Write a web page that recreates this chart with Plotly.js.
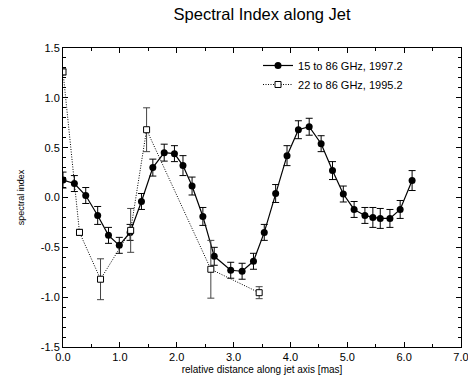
<!DOCTYPE html>
<html>
<head>
<meta charset="utf-8">
<script src="https://cdn.plot.ly/plotly-3.0.1.min.js"></script>
<style>html,body{margin:0;padding:0;background:#fff;}#chart{width:468px;height:381px;}</style>
</head>
<body>
<div id="chart"></div>
<script>
// 15 to 86 GHz, 1997.2
const x1997 = [0.0, 0.2, 0.4, 0.61, 0.8, 0.99, 1.18, 1.38, 1.58, 1.78, 1.96, 2.11, 2.27, 2.46, 2.66, 2.95, 3.15, 3.35, 3.54, 3.74, 3.94, 4.14, 4.33, 4.54, 4.74, 4.93, 5.12, 5.31, 5.45, 5.58, 5.75, 5.93, 6.14];
const y1997 = [0.175, 0.14, 0.02, -0.18, -0.38, -0.48, -0.35, -0.04, 0.30, 0.45, 0.44, 0.32, 0.115, -0.19, -0.59, -0.73, -0.74, -0.64, -0.35, 0.04, 0.42, 0.68, 0.71, 0.54, 0.27, 0.035, -0.12, -0.18, -0.20, -0.21, -0.21, -0.12, 0.17];
const e1997 = [0.08, 0.08, 0.08, 0.09, 0.08, 0.08, 0.08, 0.08, 0.085, 0.085, 0.08, 0.1, 0.09, 0.09, 0.09, 0.08, 0.08, 0.08, 0.08, 0.09, 0.1, 0.09, 0.085, 0.08, 0.09, 0.08, 0.08, 0.08, 0.1, 0.1, 0.09, 0.09, 0.1];
// 22 to 86 GHz, 1995.2
const x1995 = [0.0, 0.29, 0.66, 1.19, 1.47, 2.60, 3.45];
const y1995 = [1.26, -0.35, -0.82, -0.33, 0.68, -0.72, -0.955];
const e1995 = [0.03, 0.03, 0.205, 0.22, 0.22, 0.29, 0.06];

const xTickVals = [0, 1, 2, 3, 4, 5, 6, 7];
const xTickText = ["0.0", "1.0", "2.0", "3.0", "4.0", "5.0", "6.0", "7.0"];
const yTickVals = [-1.5, -1.0, -0.5, 0.0, 0.5, 1.0, 1.5];
const yTickText = ["-1.5", "-1.0", "-0.5", "0.0", "0.5", "1.0", "1.5"];

const font = "Liberation Sans, Arial, Helvetica, sans-serif";

const traces = [
  {
    x: x1997, y: y1997, name: "15 to 86 GHz, 1997.2", type: "scatter", mode: "lines+markers",
    line: {color: "#000", width: 1.2},
    marker: {symbol: "circle", size: 7, color: "#000"},
    error_y: {type: "data", array: e1997, visible: true, color: "#000", thickness: 1, width: 3.5}
  },
  {
    x: x1995, y: y1995, name: "22 to 86 GHz, 1995.2", type: "scatter", mode: "lines+markers",
    line: {color: "#000", width: 1, dash: "1px,1.5px"},
    marker: {symbol: "square", size: 6, color: "#fff", line: {color: "#000", width: 1}},
    error_y: {type: "data", array: e1995, visible: true, color: "#444", thickness: 1, width: 3.5}
  }
];

const axisCommon = {
  showgrid: false, zeroline: false, showline: true, linecolor: "#000", linewidth: 1,
  mirror: "ticks", ticks: "inside", ticklen: 5, tickcolor: "#000", tickwidth: 1,
  ticklabeloverflow: "allow",
  tickfont: {family: font, size: 11, color: "#000"}
};

const layout = {
  width: 468, height: 381,
  margin: {l: 63, r: 7, t: 48, b: 34},
  paper_bgcolor: "#fff", plot_bgcolor: "#fff",
  title: {text: "Spectral Index along Jet", font: {family: font, size: 16.5, color: "#000"}, x: 0.56, xanchor: "center", y: 0.963, yanchor: "middle"},
  showlegend: true,
  legend: {x: 0.49, y: 0.99, xanchor: "left", yanchor: "top", bgcolor: "rgba(0,0,0,0)",
           font: {family: font, size: 11, color: "#000"}, itemwidth: 30, tracegroupgap: 0},
  xaxis: Object.assign({}, axisCommon, {
    range: [0, 7], tickvals: xTickVals, ticktext: xTickText,
    minor: {dtick: 0.5, ticks: "inside", ticklen: 3, tickcolor: "#000"},
    title: {text: "relative distance along jet axis [mas]", font: {family: font, size: 10, color: "#000"}, standoff: 3}
  }),
  yaxis: Object.assign({}, axisCommon, {
    range: [-1.5, 1.5], tickvals: yTickVals, ticktext: yTickText,
    minor: {dtick: 0.1, ticks: "inside", ticklen: 3, tickcolor: "#000"},
    title: {text: "spectral index", font: {family: font, size: 9, color: "#000"}, standoff: 14}
  })
};

Plotly.newPlot("chart", traces, layout, {displayModeBar: false, staticPlot: true});
</script>
</body>
</html>
